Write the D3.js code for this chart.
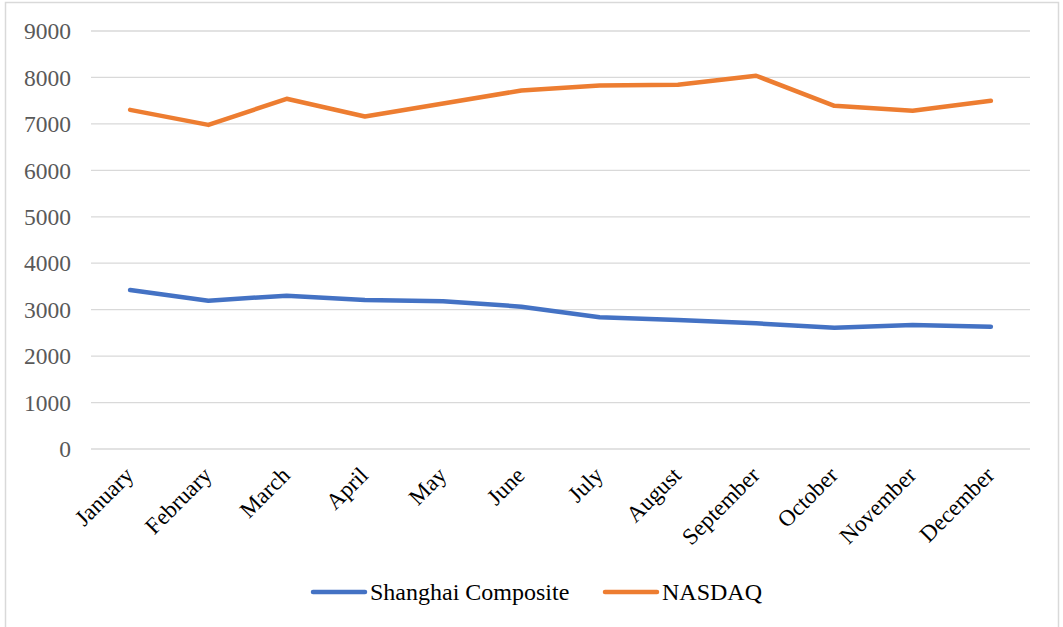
<!DOCTYPE html>
<html><head><meta charset="utf-8">
<script src="https://d3js.org/d3.v7.min.js"></script>
<style>body{margin:0;background:#fff;}</style>
</head><body>
<svg id="c" width="1063" height="627"></svg>
<script>
const months = ["January","February","March","April","May","June","July","August","September","October","November","December"];
const shanghai = [3425,3194,3302,3209,3181,3065,2836,2778,2706,2611,2670,2633];
const nasdaq = [7302,6978,7540,7158,7440,7719,7827,7842,8037,7389,7281,7497];
const yTicks = [0,1000,2000,3000,4000,5000,6000,7000,8000,9000];
const seriesNames = ["Shanghai Composite","NASDAQ"];
const colors = ["#4472C4","#ED7D31"];

const svg = d3.select("#c");
svg.append("rect").attr("x",5.5).attr("y",2.5).attr("width",1053).attr("height",630)
  .attr("fill","#fff").attr("stroke","#d9d9d9").attr("stroke-width",1.5);

const x = d3.scaleBand().domain(months).range([91,1030]).padding(0);
const y = d3.scaleLinear().domain([0,9000]).range([449,31]);

const font = "Liberation Serif, Times New Roman, serif";
const g = svg.append("g");
g.selectAll("line.grid").data(yTicks).join("line").attr("class","grid")
  .attr("x1",91).attr("x2",1030).attr("y1",d=>y(d)).attr("y2",d=>y(d))
  .attr("stroke","#d9d9d9").attr("stroke-width",1.3);

g.selectAll("text.yl").data(yTicks).join("text").attr("class","yl")
  .attr("x",71).attr("y",d=>y(d)).attr("dy","0.35em").attr("text-anchor","end")
  .attr("font-family",font).attr("font-size",23.5)
  .attr("fill","#595959").text(d=>d);

g.selectAll("text.xl").data(months).join("text").attr("class","xl")
  .attr("transform",d=>`translate(${x(d)+x.bandwidth()/2-1},${471}) rotate(-45)`)
  .attr("text-anchor","end").attr("dy","0.35em")
  .attr("font-family",font).attr("font-size",23)
  .attr("fill","#000").text(d=>d);

const line = d3.line().x((d,i)=>x(months[i])+x.bandwidth()/2).y(d=>y(d));
[shanghai,nasdaq].forEach((s,i)=>{
  g.append("path").datum(s).attr("d",line).attr("fill","none")
   .attr("stroke",colors[i]).attr("stroke-width",4.5)
   .attr("stroke-linecap","round").attr("stroke-linejoin","round");
});

const legX = [311,603];
seriesNames.forEach((n,i)=>{
  svg.append("line").attr("x1",legX[i]+2).attr("x2",legX[i]+54).attr("y1",592).attr("y2",592)
    .attr("stroke",colors[i]).attr("stroke-width",4.5).attr("stroke-linecap","round");
  svg.append("text").attr("x",legX[i]+59).attr("y",592).attr("dy","0.35em")
    .attr("font-family",font).attr("font-size",24)
    .attr("fill","#000").text(n);
});
</script>
</body></html>
